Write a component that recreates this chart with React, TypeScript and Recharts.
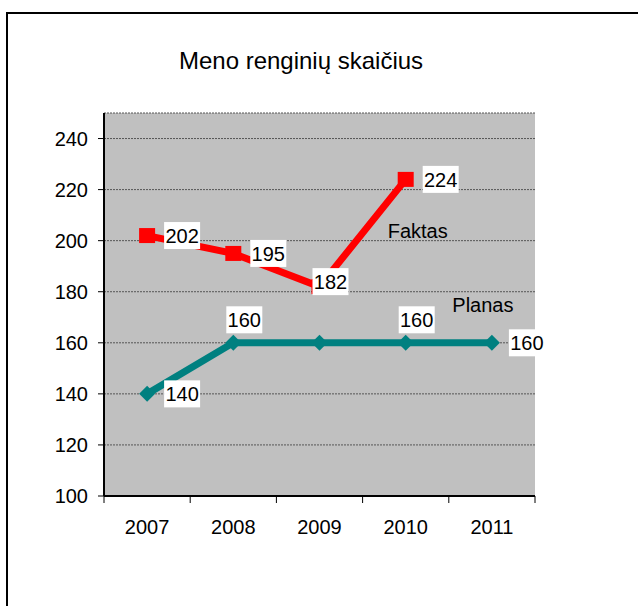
import React from "react"
import {
  CartesianGrid,
  LabelList,
  Line,
  LineChart,
  ReferenceDot,
  XAxis,
  YAxis,
} from "recharts"

const YEARS = ["2007", "2008", "2009", "2010", "2011"]
const FAKTAS = [202, 195, 182, 224, null]
const PLANAS = [140, 160, 160, 160, 160]

// where each data label sits relative to its point
const FAKTAS_LABEL_POS = ["right", "right", "over", "right", "none"]
const PLANAS_LABEL_POS = ["right", "above", "none", "above", "right"]

const Y_TICKS = [100, 120, 140, 160, 180, 200, 220, 240]

const data = YEARS.map((year, i) => ({ year, faktas: FAKTAS[i], planas: PLANAS[i] }))

const W = 638
const H = 606
const M = { top: 113, right: 103, left: 44, bottom: 70 }
const Y_AXIS_W = 60
const PLOT_W = W - M.left - Y_AXIS_W - M.right
const HALF_BAND = PLOT_W / YEARS.length / 2

const FONT = "'Liberation Sans', Arial, sans-serif"

function XTick(props: any) {
  const { x, y, payload, index } = props
  const last = index === YEARS.length - 1
  return (
    <g>
      <line x1={x - HALF_BAND} x2={x - HALF_BAND} y1={y} y2={y + 7} stroke="#000" strokeWidth={1} />
      {last && <line x1={x + HALF_BAND} x2={x + HALF_BAND} y1={y} y2={y + 7} stroke="#000" strokeWidth={1} />}
      <text x={x} y={y + 38} textAnchor="middle" fontSize={20} fill="#000">
        {payload.value}
      </text>
    </g>
  )
}

function makeLabel(positions: string[]) {
  return (props: any) => {
    const { x, y, value, index } = props
    const pos = positions[index]
    if (value == null || pos === "none") return null
    const bw = 36
    const bh = 27
    let cx = x + 17 + bw / 2
    let cy = y
    if (pos === "over") {
      cx = x + 11
      cy = y - 5
    } else if (pos === "above") {
      cx = x + 11
      cy = y - 23
    }
    return (
      <g key={`lbl-${index}`}>
        <rect x={cx - bw / 2} y={cy - bh / 2} width={bw} height={bh} fill="#fff" />
        <text x={cx} y={cy} dy="0.36em" textAnchor="middle" fontSize={20} fill="#000">
          {value}
        </text>
      </g>
    )
  }
}

function SquareDot(props: any) {
  const { cx, cy, index } = props
  if (cx == null || cy == null || props.value == null) return <g key={`sq-${index}`} />
  return <rect key={`sq-${index}`} x={cx - 8} y={cy - 7.5} width={16} height={15} fill="#ff0000" />
}

function DiamondDot(props: any) {
  const { cx, cy, index } = props
  const r = 8
  return (
    <path
      key={`dm-${index}`}
      d={`M${cx},${cy - r} L${cx + r},${cy} L${cx},${cy + r} L${cx - r},${cy} Z`}
      fill="#008080"
    />
  )
}

export default function App() {
  return (
    <div style={{ position: "absolute", left: 0, top: 0, width: W, height: H, overflow: "hidden", background: "#fff", fontFamily: FONT }}>
      <div
        style={{
          position: "absolute",
          left: 6,
          top: 12,
          width: W,
          height: H,
          borderTop: "2px solid #000",
          borderLeft: "2px solid #000",
        }}
      />
      <div
        style={{
          position: "absolute",
          left: 0,
          width: 602,
          top: 49,
          textAlign: "center",
          fontSize: 24,
          lineHeight: "24px",
          color: "#000",
        }}
      >
        Meno renginių skaičius
      </div>
      <div style={{ position: "absolute", left: 0, top: 0 }}>
        <LineChart width={W} height={H} data={data} margin={M}>
          <CartesianGrid
            vertical={false}
            fill="#c0c0c0"
            stroke="#555"
            strokeDasharray="2 1"
            xAxisId="x"
            yAxisId="y"
          />
          <XAxis
            xAxisId="x"
            dataKey="year"
            padding={{ left: HALF_BAND, right: HALF_BAND }}
            axisLine={{ stroke: "#000", strokeWidth: 2 }}
            tickLine={false}
            tickSize={0}
            tickMargin={0}
            height={40}
            interval={0}
            tick={<XTick />}
          />
          <XAxis
            xAxisId="top"
            dataKey="year"
            orientation="top"
            height={0}
            tick={false}
            tickLine={false}
            axisLine={{ stroke: "#808080", strokeWidth: 2 }}
          />
          <YAxis
            yAxisId="y"
            width={Y_AXIS_W}
            domain={[100, 250]}
            ticks={Y_TICKS}
            interval={0}
            allowDataOverflow
            axisLine={{ stroke: "#000", strokeWidth: 2 }}
            tickLine={{ stroke: "#000" }}
            tickSize={6}
            tickMargin={10}
            tick={{ fill: "#000", fontSize: 20 }}
          />
          <YAxis
            yAxisId="right"
            orientation="right"
            width={0}
            domain={[100, 250]}
            tick={false}
            tickLine={false}
            axisLine={{ stroke: "#808080", strokeWidth: 2 }}
          />
          <Line
            xAxisId="x"
            yAxisId="y"
            dataKey="planas"
            stroke="#008080"
            strokeWidth={7}
            strokeLinejoin="round"
            dot={<DiamondDot />}
            activeDot={false}
            isAnimationActive={false}
            type="linear"
          >
            <LabelList dataKey="planas" content={makeLabel(PLANAS_LABEL_POS)} />
          </Line>
          <Line
            xAxisId="x"
            yAxisId="y"
            dataKey="faktas"
            stroke="#ff0000"
            strokeWidth={7}
            strokeLinejoin="round"
            dot={<SquareDot />}
            activeDot={false}
            isAnimationActive={false}
            type="linear"
          >
            <LabelList dataKey="faktas" content={makeLabel(FAKTAS_LABEL_POS)} />
          </Line>
          <ReferenceDot
            xAxisId="x"
            yAxisId="y"
            x="2010"
            y={204}
            r={0}
            fill="none"
            stroke="none"
            label={{ value: "Faktas", position: "center", dx: 12, fill: "#000", fontSize: 20 }}
          />
          <ReferenceDot
            xAxisId="x"
            yAxisId="y"
            x="2011"
            y={175}
            r={0}
            fill="none"
            stroke="none"
            label={{ value: "Planas", position: "center", dx: -9, fill: "#000", fontSize: 20 }}
          />
        </LineChart>
      </div>
    </div>
  )
}
